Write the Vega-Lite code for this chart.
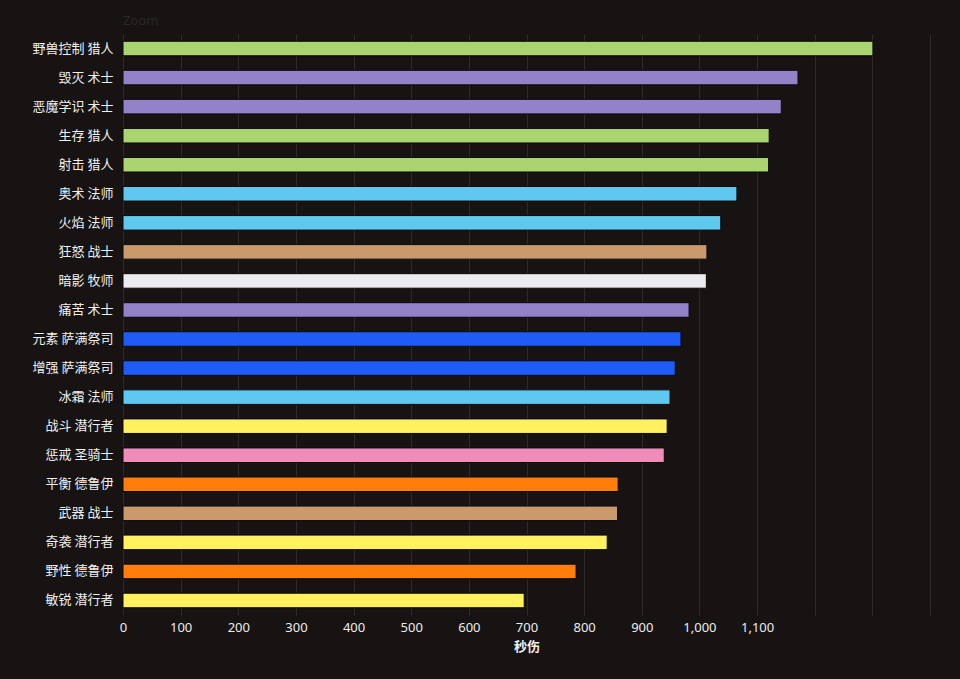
{
  "$schema": "https://vega.github.io/schema/vega-lite/v6.json",
  "autosize": {"type": "none"},
  "width": 807,
  "height": 581,
  "padding": {"left": 123, "top": 34, "right": 30, "bottom": 64},
  "background": "#161312",
  "title": {
    "text": "Zoom",
    "anchor": "start",
    "frame": "group",
    "color": "#2a2725",
    "fontSize": 13,
    "fontWeight": "normal",
    "font": "Noto Sans",
    "offset": 6
  },
  "data": {
    "values": [
      {"name": "野兽控制 猎人", "cls": "猎人", "dps": 1301},
      {"name": "毁灭 术士", "cls": "术士", "dps": 1171},
      {"name": "恶魔学识 术士", "cls": "术士", "dps": 1142},
      {"name": "生存 猎人", "cls": "猎人", "dps": 1121},
      {"name": "射击 猎人", "cls": "猎人", "dps": 1120},
      {"name": "奥术 法师", "cls": "法师", "dps": 1065},
      {"name": "火焰 法师", "cls": "法师", "dps": 1037},
      {"name": "狂怒 战士", "cls": "战士", "dps": 1013},
      {"name": "暗影 牧师", "cls": "牧师", "dps": 1012},
      {"name": "痛苦 术士", "cls": "术士", "dps": 982},
      {"name": "元素 萨满祭司", "cls": "萨满祭司", "dps": 968},
      {"name": "增强 萨满祭司", "cls": "萨满祭司", "dps": 958},
      {"name": "冰霜 法师", "cls": "法师", "dps": 949},
      {"name": "战斗 潜行者", "cls": "潜行者", "dps": 944},
      {"name": "惩戒 圣骑士", "cls": "圣骑士", "dps": 939},
      {"name": "平衡 德鲁伊", "cls": "德鲁伊", "dps": 859},
      {"name": "武器 战士", "cls": "战士", "dps": 858},
      {"name": "奇袭 潜行者", "cls": "潜行者", "dps": 840},
      {"name": "野性 德鲁伊", "cls": "德鲁伊", "dps": 786},
      {"name": "敏锐 潜行者", "cls": "潜行者", "dps": 696}
    ]
  },
  "mark": {"type": "bar", "stroke": "#0c0a09", "strokeWidth": 1},
  "encoding": {
    "y": {
      "field": "name",
      "type": "nominal",
      "sort": null,
      "scale": {"paddingInner": 0.5, "paddingOuter": 0.25},
      "axis": {
        "title": null,
        "domain": false,
        "ticks": false,
        "labelPadding": 10,
        "labelFont": "Noto Sans CJK SC",
        "labelFontSize": 13,
        "labelColor": "#f0f0f0"
      }
    },
    "x": {
      "field": "dps",
      "type": "quantitative",
      "scale": {"domain": [0, 1400], "nice": false},
      "axis": {
        "title": "秒伤",
        "values": [0, 100, 200, 300, 400, 500, 600, 700, 800, 900, 1000, 1100, 1200, 1300, 1400],
        "format": ",d",
        "labelExpr": "datum.value > 1100 ? '' : datum.label",
        "labelFlush": false,
        "domain": false,
        "ticks": false,
        "grid": true,
        "gridColor": "#2e2a27",
        "gridWidth": 1,
        "labelPadding": 6,
        "labelFont": "Noto Sans",
        "labelFontSize": 13,
        "labelColor": "#ececec",
        "titleFont": "Noto Sans CJK SC",
        "titleFontSize": 13,
        "titleFontWeight": "bold",
        "titleColor": "#f2f2f2",
        "titlePadding": 6
      }
    },
    "color": {
      "field": "cls",
      "type": "nominal",
      "legend": null,
      "scale": {
        "domain": ["猎人", "术士", "法师", "战士", "牧师", "萨满祭司", "潜行者", "圣骑士", "德鲁伊"],
        "range": ["#a9d46f", "#9482c9", "#5fc8ef", "#c99a6c", "#ebebf0", "#1f5cf7", "#fff25e", "#f08cba", "#ff7d0a"]
      }
    }
  },
  "config": {"view": {"stroke": null}}
}
